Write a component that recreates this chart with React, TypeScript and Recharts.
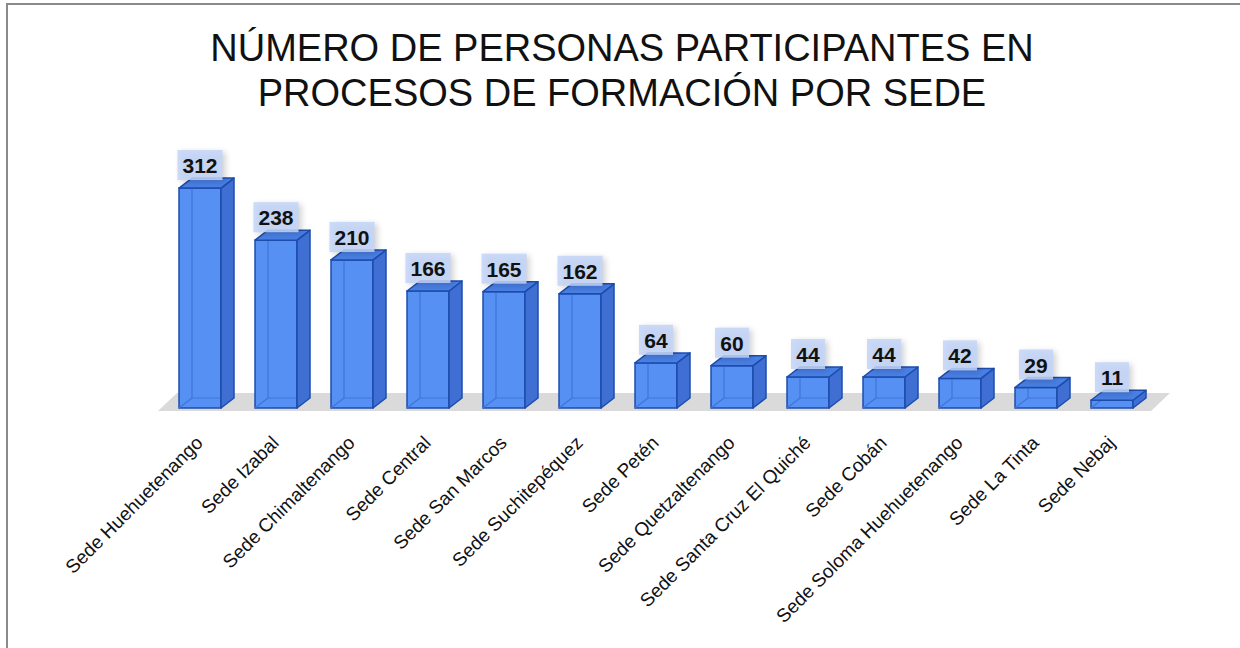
import { BarChart, Bar, XAxis, YAxis, LabelList, ReferenceArea } from "recharts"

const sedes = [
  "Sede Huehuetenango",
  "Sede Izabal",
  "Sede Chimaltenango",
  "Sede Central",
  "Sede San Marcos",
  "Sede Suchitepéquez",
  "Sede Petén",
  "Sede Quetzaltenango",
  "Sede Santa Cruz El Quiché",
  "Sede Cobán",
  "Sede Soloma Huehuetenango",
  "Sede La Tinta",
  "Sede Nebaj",
]

const participantes = [312, 238, 210, 166, 165, 162, 64, 60, 44, 44, 42, 29, 11]

const titleLines = [
  "NÚMERO DE PERSONAS PARTICIPANTES EN",
  "PROCESOS DE FORMACIÓN POR SEDE",
]

const chartData = sedes.map((sede, i) => ({ sede, valor: participantes[i] }))

// depth of the fake 3D boxes
const DX = 13
const DY = 10

const Box3D = (props: any) => {
  const { x, y, width: w, height: h } = props
  if (w == null || h == null) return null
  const edge = "#1d4cad"
  return (
    <g>
      <rect x={x} y={y} width={w} height={h} fill="#5790f3" stroke={edge} strokeWidth={1.5} />
      {/* see-through back edges */}
      <line x1={x + DX} y1={y - DY} x2={x + DX} y2={y + h - DY} stroke="#3f74dc" strokeWidth={1.2} />
      <line x1={x} y1={y + h} x2={x + DX} y2={y + h - DY} stroke="#3f74dc" strokeWidth={1.2} />
      <line x1={x + DX} y1={y + h - DY} x2={x + w + DX} y2={y + h - DY} stroke="#3f74dc" strokeWidth={1.2} />
      <polygon
        points={`${x + w},${y} ${x + w + DX},${y - DY} ${x + w + DX},${y + h - DY} ${x + w},${y + h}`}
        fill="#3f6fd2"
        stroke={edge}
        strokeWidth={1.5}
        strokeLinejoin="round"
      />
      <polygon
        points={`${x},${y} ${x + DX},${y - DY} ${x + w + DX},${y - DY} ${x + w},${y}`}
        fill="#4a80e6"
        stroke={edge}
        strokeWidth={1.5}
        strokeLinejoin="round"
      />
    </g>
  )
}

const Floor = (props: any) => {
  const { x, width, y, height } = props
  const yb = y + height
  return (
    <polygon
      points={`${x - 4},${yb + 3} ${x + 15},${yb - 15} ${x + width + 20},${yb - 15} ${x + width + 1},${yb + 3}`}
      fill="#dadada"
    />
  )
}

const ValueLabel = (props: any) => {
  const { x, y, width, value, index } = props
  const cx = x + width / 2
  const txt = String(value)
  const bw = txt.length * 11 + 12
  const id = `sh${index}`
  return (
    <g>
      <defs>
        <filter id={id} x="-30%" y="-30%" width="160%" height="160%">
          <feGaussianBlur stdDeviation="3" />
        </filter>
      </defs>
      <rect x={cx - bw / 2 + 3} y={y - 36} width={bw} height={30} fill="#000" opacity={0.18} filter={`url(#${id})`} />
      <rect x={cx - bw / 2} y={y - 38} width={bw} height={30} fill="#c3d5f8" opacity={0.85} />
      <text
        x={cx}
        y={y - 15}
        textAnchor="middle"
        fontFamily="Liberation Sans, Arial, sans-serif"
        fontWeight="bold"
        fontSize={21}
        fill="#111"
      >
        {txt}
      </text>
    </g>
  )
}

const SedeTick = (props: any) => {
  const { x, y, payload } = props
  return (
    <text
      x={x + 4}
      y={y + 28}
      transform={`rotate(-45 ${x + 4} ${y + 28})`}
      textAnchor="end"
      fontFamily="Liberation Sans, Arial, sans-serif"
      fontSize={19}
      fill="#111"
    >
      {payload.value}
    </text>
  )
}

export default function App() {
  return (
    <div style={{ position: "absolute", left: 0, top: 0, width: 1240, height: 648, background: "#fff", overflow: "hidden" }}>
      <div
        style={{
          position: "absolute",
          left: 6,
          top: 3,
          width: 1240,
          height: 648,
          borderLeft: "2px solid #8a8a8a",
          borderTop: "2px solid #8a8a8a",
        }}
      />
      <div
        style={{
          position: "absolute",
          left: 0,
          top: 26,
          width: 1244,
          textAlign: "center",
          fontFamily: "Liberation Sans, Arial, sans-serif",
          fontSize: 38,
          lineHeight: "45px",
          color: "#111",
        }}
      >
        {titleLines.map((l) => (
          <div key={l}>{l}</div>
        ))}
      </div>
      <div style={{ position: "absolute", left: 0, top: 0 }}>
        <BarChart
          width={1240}
          height={648}
          data={chartData}
          margin={{ top: 126, right: 90, left: 162, bottom: 0 }}
          barSize={42}
        >
          <XAxis
            dataKey="sede"
            interval={0}
            height={240}
            axisLine={false}
            tickLine={false}
            tick={<SedeTick />}
          />
          <YAxis hide domain={[0, 400]} />
          <ReferenceArea y1={0} y2={1} shape={<Floor />} ifOverflow="visible" />
          <Bar dataKey="valor" shape={<Box3D />} isAnimationActive={false}>
            <LabelList dataKey="valor" content={<ValueLabel />} />
          </Bar>
        </BarChart>
      </div>
    </div>
  )
}
